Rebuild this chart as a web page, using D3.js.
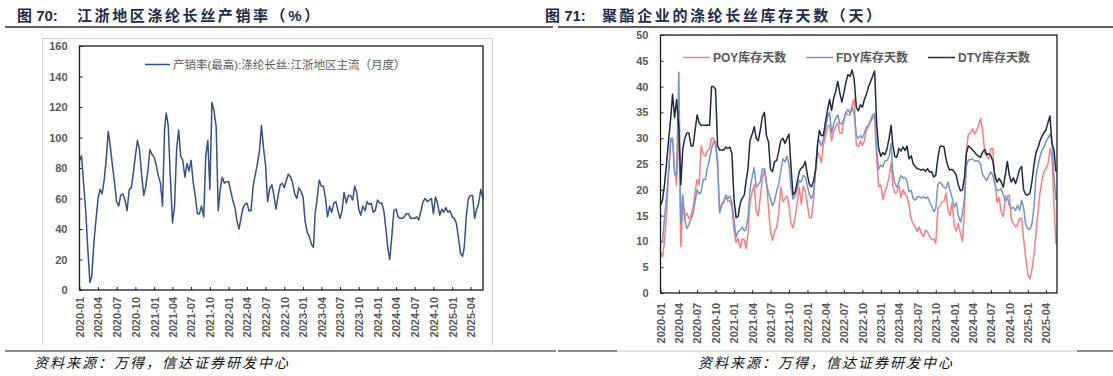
<!DOCTYPE html>
<html>
<head>
<meta charset="utf-8">
<script src="https://cdn.jsdelivr.net/npm/d3@7"></script>
<style>
  html, body { margin: 0; padding: 0; background: #fff; }
  svg { display: block; font-family: "Liberation Sans", Arial, "Noto Sans CJK SC", sans-serif; }
</style>
</head>
<body>
<svg id="canvas"></svg>
<script>
// x ticks (quarterly) shared by both panels
const tickLabels = ["2020-01","2020-04","2020-07","2020-10","2021-01","2021-04","2021-07","2021-10",
    "2022-01","2022-04","2022-07","2022-10","2023-01","2023-04","2023-07","2023-10",
    "2024-01","2024-04","2024-07","2024-10","2025-01","2025-04"];

// left: 产销率, readings at the 1st / 11th / 21st of each month from 2020-01
const rateValues = [
    85,88,70,51,26,5,9,30,45,60, 66,63,72,86,104,93,81,70,58,55,
    62,63,59,52,66,67,77,88,98,92, 75,62,68,78,92,89,87,82,75,70,
    55,105,116,108,75,44,55,92,105,88, 85,74,83,78,85,71,62,50,50,55,
    48,88,98,66,123,118,107,52,66,74, 70,71,71,65,59,54,45,40,46,53,
    56,57,52,52,68,75,82,91,108,93, 82,58,66,69,62,53,62,69,
    70,67,72,76,74,70,63,60,67,65, 61,45,38,35,30,28,50,60,72,68,
    68,60,48,55,51,57,58,52,47,52, 64,57,62,62,59,68,64,53,49,55,
    52,58,56,57,51,52,59,57,57,52, 40,27,20,35,52,53,48,47,47,48,
    50,50,47,47,47,48,46,52,58,60, 58,59,60,50,61,57,49,53,51,54,
    51,52,48,47,44,34,24,22,28,48, 60,62,62,47,53,57,66,60
];
const rateTicks = [0, 20, 40, 60, 80, 100, 120, 140, 160];

// right: 库存天数, same 1st / 11th / 21st spacing from 2020-01
const poyValues = [
    8,7,10,16,24,29,30,24,21,33, 9,17,14.8,15.5,14.5,15,16.6,19.5,22,21,
    28.5,27,26.5,27.5,28,30,30,28.5,26,15.7, 17,17.7,18.8,17.8,18,16.5,12,9.8,10.6,8.7,
    10.5,10.3,8.6,11.5,17.5,19.6,21,15.7,15,18.5, 22,24,21.5,16.5,12,10.2,11.9,12.7,15.5,20.5,
    17.7,18.3,18.8,17,13.5,12.6,14.8,17.5,20.5,17.2, 20.8,19.8,17,14.6,14.6,18.5,24,27.2,26.8,25.3,
    28.6,30.5,32.4,32.5,29.5,31.2,32.4,33,30.9,31, 33.4,35.1,34.5,34.5,36.5,37.6,28.6,28.4,
    29.5,28.6,29.5,31.5,32.3,33.2,33.8,34.5,26,20.6, 20.9,18.1,19.5,20.9,22.5,25.2,20.8,19.4,19.5,20.8,
    18.5,20,19.2,18.7,17,14.4,13.3,12.8,11.9,12.8, 11.6,10.9,12.2,11.8,11,10.3,10.5,9.6,16.2,16.9,
    17.6,17.8,19.4,16,15,17.5,13,12,13.5,11.5, 10,16,27.5,30.8,31,31.8,30.8,31.5,32.5,33.8,
    31.5,27,26.5,26,28,28,22,17.5,18.5,15.8, 14.8,18.8,18.7,19,14.3,13.5,12.8,13.2,14.5,14.5,
    10.5,7,3.5,2.8,4.5,7.5,12,15.8,19,21.5, 23.4,24.1,25,28,26.5,17,9.5
];
const fdyValues = [
    10,10,14.5,19,24,30,30,23,23,42.8, 13.5,19,14.2,12.5,13.2,14.4,15.3,17.7,20,19.2,
    19.6,22,22,24.2,26,28,29.3,29.3,24.5,15.5, 17.4,17.6,19,18.3,18.8,17.6,14,10.8,11.9,12.2,
    12.8,12,12.4,14.5,20,22.5,24.3,20.5,21,21.5, 24,24.1,21.2,19.4,18.3,16.9,17.8,19.8,21,23.5,
    26,25.4,26.5,25,20.5,18.2,18.8,20.3,21.8,21.5, 22.8,22.5,20.6,19,18.3,19.5,24.5,29.5,29.6,28.5,
    29.8,32,34.1,35,31,32.8,33.8,34.5,32.8,32.8, 33.7,35,35.6,34.8,36,34.7,30.5,30,
    30.5,30,31,32.2,32.5,33.5,34.5,34.8,28,24, 24.8,24.5,25.6,25.7,26.5,29,23.5,21.3,20.5,21.5,
    22.8,22.3,22.4,21.7,19.6,19.9,18.3,18,18.6,18.7, 18.4,18.7,18.3,18.6,17.6,16.8,15.8,16.3,21,21.5,
    21,20.5,20.3,21.5,19.9,18.5,16.6,17.5,15,13.7, 15.5,18.5,24.5,25.8,25.8,26,25.6,25.6,25.6,25,
    22.9,22.3,21.8,22.8,23.5,22.8,21,19.8,20,20.2, 19,17.8,18.5,17,16.4,16.6,16,17,16,18,
    16.5,13.3,12.5,12.3,13.3,16.8,22.8,24.8,26.2,27.6, 28.2,29.3,30,30.8,29.5,22.5,18
];
const dtyValues = [
    17,18,21,25.5,30,34,38.5,34,37.5,32, 21,28,30,31,31,28.5,28.5,31.5,34.5,33,
    32.5,32.5,32.5,32.5,32.5,40,40,39.5,28.5,27.7, 27.7,27.7,28.3,28,28.3,27,18,14.6,14.8,17.5,
    18.4,19,21.5,24,29.5,30.8,32.2,30,29.5,31.5, 34,35,30.5,29.3,24,23.5,25.4,25.7,27.4,29.5,
    30,29,30,30.8,24.5,19,19.6,21.5,23.5,24.2, 24.5,25.5,22.8,21,20.6,21.8,24,29,31.5,30.5,
    30.5,33.3,35.5,37.5,35.4,37.7,39,41,38.8,37, 38.8,40.8,42.3,42,43.2,41.5,36,35.3,
    36.5,36,37.5,38.5,40,41,42,43,33,28, 26.5,27.2,26.8,28,30,32.5,28.8,26.5,26.3,28,
    27.5,28.3,27.6,28.5,26,26.6,25,24.5,24.1,24, 23.8,24,23.6,24.1,23.4,23.5,22.5,22.8,26,28.3,
    28.5,28.3,26,24.5,23.8,24,23.5,22.8,21,19.8, 20,22.5,27,28.5,28.2,27.7,27.3,26.8,26.5,26.3,
    27.3,27.8,26.8,27,26.6,25.5,22.8,21.5,22.2,21.5, 20.5,23,25.5,22.8,21.5,22.3,21.2,22.5,24,24.5,
    20,19.1,19,19.3,21.5,25,27.3,28.2,29.3,30.3, 31,31.6,33,34.3,29,27.7,23.5
];
const stockTicks = [0, 5, 10, 15, 20, 25, 30, 35, 40, 45, 50];
const stockNames = ["POY库存天数", "FDY库存天数", "DTY库存天数"];
const stockColors = ["#ff7c80", "#7395d1", "#1c2b46"];

const width = 1113,
    height = 376;

const svg = d3.select("#canvas")
    .attr("width", width)
    .attr("height", height);

// date of the j-th reading: 1st, 11th, 21st of each month
const dekadDate = (j) => new Date(2020, Math.floor(j / 3), 1 + 10 * (j % 3));
const parseMonth = d3.timeParse("%Y-%m");
const tickDates = tickLabels.map(parseMonth);

const leftBox = { x0: 79.5, x1: 483, y0: 46, y1: 290, end: new Date(2025, 5, 1), labelGap: 7 };
const rightBox = { x0: 660.5, x1: 1057, y0: 35, y1: 293, end: new Date(2025, 4, 26), labelGap: 10 };

const titleColor = "#1c2c4c";
const labelColor = "#595959";

// titles + rules
function drawTitle(x, xText, num, text) {
    const t = svg.append("text")
        .attr("y", 21)
        .attr("fill", titleColor)
        .attr("font-weight", "bold")
        .attr("font-size", 15);
    t.append("tspan").attr("x", x).text("图 " + num + ":");
    t.append("tspan").attr("x", xText).attr("letter-spacing", 2.6).text(text);
}
drawTitle(17, 77, "70", "江浙地区涤纶长丝产销率（%）");
drawTitle(545, 602, "71", "聚酯企业的涤纶长丝库存天数（天）");

svg.append("line").attr("x1", 5).attr("x2", 553).attr("y1", 27).attr("y2", 27)
    .attr("stroke", "#2b2b2b").attr("stroke-width", 1.5);
svg.append("line").attr("x1", 558).attr("x2", 1113).attr("y1", 27).attr("y2", 27)
    .attr("stroke", "#2b2b2b").attr("stroke-width", 1.5);

svg.append("line").attr("x1", 5).attr("x2", 556).attr("y1", 351).attr("y2", 351)
    .attr("stroke", "#666").attr("stroke-width", 1.5);
svg.append("line").attr("x1", 558).attr("x2", 617).attr("y1", 351).attr("y2", 351)
    .attr("stroke", "#666").attr("stroke-width", 1.5);
svg.append("line").attr("x1", 617).attr("x2", 1077).attr("y1", 351).attr("y2", 351)
    .attr("stroke", "#c8c8c8").attr("stroke-width", 1);
svg.append("line").attr("x1", 1077).attr("x2", 1113).attr("y1", 351).attr("y2", 351)
    .attr("stroke", "#666").attr("stroke-width", 1.5);

// source notes
[34, 698].forEach(x => {
    svg.append("text")
        .attr("x", x).attr("y", 368)
        .attr("font-family", "'Noto Sans CJK SC', sans-serif")
        .attr("font-size", 14)
        .attr("font-style", "italic")
        .attr("letter-spacing", 2)
        .attr("fill", "#111")
        .text("资料来源：万得，信达证券研发中心");
});

// grey chart-area frame of the left panel (bottom edge is cut off)
svg.append("path")
    .attr("d", "M42.5,345 V38.5 H492.5 V345")
    .attr("fill", "none")
    .attr("stroke", "#d0d0d0");

function renderPanel(box, yDomain, yTicks, series) {
    const root = svg.append("g");
    const scaleX = d3.scaleTime()
        .domain([new Date(2020, 0, 1), box.end])
        .range([box.x0, box.x1]);
    const scaleY = d3.scaleLinear()
        .domain(yDomain)
        .range([box.y1, box.y0]);

    const axisY = root.append("g")
        .attr("transform", `translate(${box.x0},0)`)
        .call(d3.axisLeft(scaleY).tickValues(yTicks).tickSizeInner(-3).tickSizeOuter(0).tickPadding(12));
    const axisX = root.append("g")
        .attr("transform", `translate(0,${box.y1})`)
        .call(d3.axisBottom(scaleX).tickValues(tickDates).tickFormat(d3.timeFormat("%Y-%m"))
            .tickSizeInner(-3).tickSizeOuter(0));

    [axisX, axisY].forEach(a => {
        a.select(".domain").remove();
        a.selectAll(".tick line").attr("stroke", "#222");
        a.selectAll("text")
            .attr("fill", labelColor)
            .attr("font-size", 11)
            .attr("font-weight", "bold")
            .attr("font-family", "'Liberation Sans', Arial, sans-serif");
    });
    axisX.selectAll("text")
        .attr("transform", "rotate(-90)")
        .attr("text-anchor", "end")
        .attr("x", -box.labelGap)
        .attr("y", 0)
        .attr("dy", "0.35em");

    const line = d3.line()
        .x((d, i) => scaleX(dekadDate(i)))
        .y(d => scaleY(d));

    series.forEach(s => {
        root.append("path")
            .attr("fill", "none")
            .attr("stroke", s.color)
            .attr("stroke-width", 1.5)
            .attr("stroke-linejoin", "round")
            .attr("d", line(s.values));
    });

    root.append("rect")
        .attr("x", box.x0).attr("y", box.y0)
        .attr("width", box.x1 - box.x0).attr("height", box.y1 - box.y0)
        .attr("fill", "none")
        .attr("stroke", "#1a1a1a")
        .attr("stroke-width", 1.3);
    return root;
}

// left panel
const leftRoot = renderPanel(leftBox, [0, 160], rateTicks,
    [{ color: "#33528a", values: rateValues }]);
leftRoot.append("line")
    .attr("x1", 145).attr("x2", 170).attr("y1", 64.5).attr("y2", 64.5)
    .attr("stroke", "#33528a").attr("stroke-width", 1.5);
leftRoot.append("text")
    .attr("x", 173).attr("y", 68.5)
    .attr("font-size", 11.5)
    .attr("fill", labelColor)
    .text("产销率(最高):涤纶长丝:江浙地区主流（月度）");

// right panel
const stockSeries = [poyValues, fdyValues, dtyValues].map((v, i) => ({ color: stockColors[i], values: v }));
const rightRoot = renderPanel(rightBox, [0, 50], stockTicks, stockSeries);

const legendX = [683, 806, 928];
stockNames.forEach((name, i) => {
    rightRoot.append("line")
        .attr("x1", legendX[i]).attr("x2", legendX[i] + 27)
        .attr("y1", 57.5).attr("y2", 57.5)
        .attr("stroke", stockColors[i]).attr("stroke-width", 1.5);
    rightRoot.append("text")
        .attr("x", legendX[i] + 30).attr("y", 62)
        .attr("font-size", 12)
        .attr("font-weight", "bold")
        .attr("fill", labelColor)
        .text(name);
});
</script>
</body>
</html>
